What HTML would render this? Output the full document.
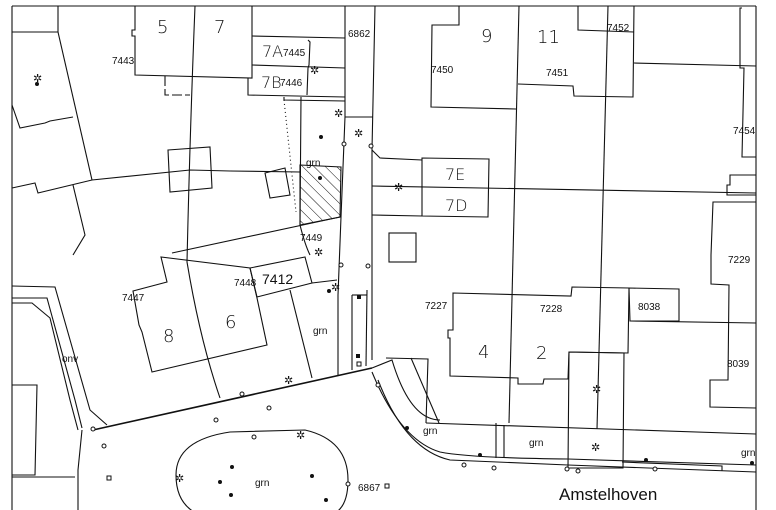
<!DOCTYPE html>
<html><head><meta charset="utf-8"><style>
html,body{margin:0;padding:0;background:#fff;width:776px;height:510px;overflow:hidden}
svg{display:block}
text{font-family:"Liberation Sans",sans-serif;fill:#111}
.s{font-size:10px}.b{font-size:18px;font-family:"DejaVu Sans",sans-serif;font-weight:200}
</style></head><body>
<svg width="776" height="510" viewBox="0 0 776 510" xmlns="http://www.w3.org/2000/svg">
<defs><pattern id="h" patternUnits="userSpaceOnUse" width="8" height="8" patternTransform="rotate(-45)"><line x1="0" y1="0" x2="0" y2="8" stroke="#111" stroke-width="1"/></pattern></defs>
<g fill="none" stroke="#111" stroke-width="1.1">
<!-- frame -->
<line x1="12" y1="6" x2="756" y2="6"/><line x1="12" y1="6" x2="12" y2="510"/><line x1="756" y1="6" x2="756" y2="510"/>
<!-- top-left -->
<polyline points="58,6 58,32 12,32"/>
<polyline points="58,32 92,180"/>
<polyline points="12,105 20,128 45,123 50,121 73,117"/>
<polyline points="12,188 35,183 38,193 92,180 190,170 230,171 300,172"/>
<polyline points="73,185 85,235 73,255"/>
<!-- 5/7 -->
<polyline points="135,6 135,30 132,30 132,36 135,36 135,75 252,78 252,6"/>
<path d="M195,6 Q190,130 187,262 Q200,340 220,398"/>
<polyline points="165,76 165,95 190,95" stroke-dasharray="10,3"/>
<!-- 7A/7B -->
<polyline points="252,36 345,38"/><polyline points="252,65 345,68"/><polyline points="248,78 248,95 345,97"/>
<polyline points="308,40 310,42 309,65 308,68 307,95"/>
<line x1="345" y1="6" x2="345" y2="117"/>
<polyline points="345,117 373,117"/>
<path d="M375,6 L372,150 L372,360"/>
<path d="M345,117 L341,217 L338,295 L338,375"/>
<polyline points="284,97 284,100 345,101"/>
<path d="M301,97 L300,225 Q305,245 310,255"/>
<line x1="284" y1="100" x2="296" y2="212" stroke-dasharray="1,3"/>
<polygon points="300,165 341,167 340,217 300,225" fill="url(#h)"/>
<line x1="172" y1="253" x2="340" y2="217"/>
<polygon points="168,150 210,147 212,188 170,192"/>
<polygon points="265,173 285,168 290,195 270,198"/>
<polyline points="372,150 380,158 422,160"/>
<polygon points="422,158 489,159 488,217 422,216"/>
<line x1="372" y1="186" x2="756" y2="193"/>
<line x1="372" y1="215" x2="422" y2="216"/>
<rect x="389" y="233" width="27" height="29"/>
<!-- right top -->
<path d="M519,6 L509,423"/><path d="M608,6 L597,429"/>
<polyline points="459,6 459,25 432,25 431,107 516,109"/>
<polyline points="518,84 573,86 574,96 633,97 634,6"/>
<polyline points="578,6 578,30 634,32"/>
<line x1="634" y1="63" x2="756" y2="66"/>
<polyline points="742,8 740,8 740,68 744,68 742,157 756,157"/>
<polyline points="756,175 730,175 730,185 727,185 727,195 756,195"/>
<polyline points="756,202 713,202 711,255 711,284 729,285 728,380 710,380 710,407 756,408"/>
<!-- left lower -->
<polyline points="12,286 55,287 90,410 107,425"/>
<polyline points="12,298 47,298 75,400 82,428"/>
<polyline points="12,303 32,303 50,318 70,400 78,430"/>
<polyline points="12,385 37,385 35,475 12,475"/>
<line x1="12" y1="477" x2="75" y2="477"/>
<polyline points="82,430 78,470 78,510"/>
<line x1="93" y1="430" x2="372" y2="368" stroke-width="1.6"/>
<polygon points="161,257 167,282 133,291 139,325 142,332 152,372 267,345 257,298 250,268"/>
<polygon points="250,268 305,257 312,283 257,297"/>
<line x1="290" y1="290" x2="312" y2="378"/>
<line x1="312" y1="283" x2="337" y2="280"/>
<line x1="352" y1="295" x2="352" y2="370"/><line x1="367" y1="290" x2="366" y2="366"/>
<polyline points="352,295 367,295"/>
<path d="M372,368 L392,360 Q410,420 440,420"/>
<path d="M176,475 Q176,440 230,432 L305,430 Q348,440 348,480 Q348,510 330,515"/>
<path d="M176,475 Q176,505 200,515"/>
<!-- street -->
<path d="M372,372 Q400,440 440,452 Q470,458 568,459 L756,465"/>
<path d="M378,380 Q405,450 450,460 L568,465 L756,472"/>
<line x1="426" y1="423" x2="756" y2="434"/>
<polygon points="453,293 571,296 572,287 629,288 628,353 569,352 568,379 544,379 543,384 518,384 518,378 450,376 450,338 448,338 448,330 453,330"/>
<polygon points="629,288 679,289 679,321 630,321"/>
<line x1="630" y1="321" x2="756" y2="323"/>
<polygon points="569,352 624,353 623,468 568,468"/>
<line x1="496" y1="423" x2="496" y2="458"/><line x1="504" y1="425" x2="504" y2="458"/>
<polyline points="386,358 428,359 426,423"/><line x1="411" y1="358" x2="439" y2="423"/>
<polyline points="622,462 722,466 722,471"/>
</g>
<!-- symbols -->
<g fill="#111">
<circle cx="37" cy="84" r="2"/><circle cx="321" cy="137" r="2"/><circle cx="320" cy="178" r="2"/><circle cx="329" cy="291" r="2"/>
<circle cx="407" cy="428" r="2"/><circle cx="480" cy="455" r="2"/><circle cx="646" cy="460" r="2"/><circle cx="752" cy="463" r="2"/>
<circle cx="232" cy="467" r="2"/><circle cx="220" cy="482" r="2"/><circle cx="231" cy="495" r="2"/><circle cx="312" cy="476" r="2"/><circle cx="326" cy="500" r="2"/>
<rect x="357" y="295" width="4" height="4"/><rect x="356" y="354" width="4" height="4"/>
</g>
<g fill="#fff" stroke="#111" stroke-width="1">
<circle cx="344" cy="144" r="2"/><circle cx="371" cy="146" r="2"/><circle cx="341" cy="265" r="2"/><circle cx="368" cy="266" r="2"/>
<circle cx="93" cy="429" r="2"/><circle cx="104" cy="446" r="2"/><circle cx="216" cy="420" r="2"/><circle cx="269" cy="408" r="2"/><circle cx="242" cy="394" r="2"/>
<circle cx="254" cy="437" r="2"/><circle cx="348" cy="484" r="2"/><circle cx="378" cy="385" r="2"/><circle cx="464" cy="465" r="2"/><circle cx="494" cy="468" r="2"/><circle cx="567" cy="469" r="2"/><circle cx="578" cy="471" r="2"/><circle cx="655" cy="469" r="2"/>
<rect x="107" y="476" width="4" height="4"/><rect x="357" y="362" width="4" height="4"/><rect x="385" y="484" width="4" height="4"/>
</g>
<g font-size="11" style="font-family:'DejaVu Sans',sans-serif">
<text x="33" y="82">✲</text><text x="310" y="74">✲</text><text x="334" y="117">✲</text><text x="354" y="137">✲</text><text x="394" y="191">✲</text><text x="314" y="256">✲</text><text x="331" y="291">✲</text><text x="284" y="384">✲</text><text x="296" y="439">✲</text><text x="175" y="482">✲</text><text x="592" y="393">✲</text><text x="591" y="451">✲</text>
</g>
<!-- labels -->
<text class="b" x="157" y="33">5</text><text class="b" x="214" y="33">7</text>
<text class="b" x="262" y="57" style="font-size:16px">7A</text><text class="b" x="261" y="88" style="font-size:16px">7B</text>
<text class="s" x="283" y="56">7445</text><text class="s" x="280" y="86">7446</text>
<text class="s" x="112" y="64">7443</text><text class="s" x="348" y="37">6862</text>
<text class="b" x="481" y="42">9</text><text class="b" x="537" y="43">11</text>
<text class="s" x="607" y="31">7452</text><text class="s" x="431" y="73">7450</text><text class="s" x="546" y="76">7451</text><text class="s" x="733" y="134">7454</text>
<text class="b" x="445" y="180" style="font-size:16px">7E</text><text class="b" x="445" y="211" style="font-size:16px">7D</text>
<text class="s" x="306" y="166">grn</text><text class="s" x="300" y="241">7449</text>
<text class="s" x="234" y="286">7448</text><text class="s" x="262" y="284" style="font-size:14px">7412</text>
<text class="s" x="122" y="301">7447</text>
<text class="b" x="163" y="342">8</text><text class="b" x="225" y="328">6</text>
<text class="s" x="313" y="334">grn</text><text class="s" x="62" y="362">onv</text>
<text class="s" x="425" y="309">7227</text><text class="s" x="540" y="312">7228</text><text class="s" x="638" y="310">8038</text>
<text class="s" x="728" y="263">7229</text><text class="s" x="727" y="367">8039</text>
<text class="b" x="478" y="358">4</text><text class="b" x="536" y="359">2</text>
<text class="s" x="423" y="434">grn</text><text class="s" x="529" y="446">grn</text><text class="s" x="741" y="456">grn</text>
<text class="s" x="255" y="486">grn</text><text class="s" x="358" y="491">6867</text>
<text x="559" y="500" style="font-size:17px">Amstelhoven</text>
</svg>
</body></html>
